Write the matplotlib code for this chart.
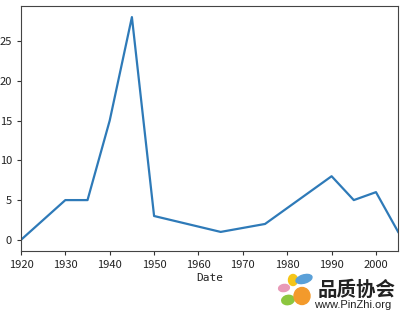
import matplotlib
matplotlib.use("Agg")
import matplotlib.pyplot as plt
from matplotlib.patches import Ellipse

plt.rcParams['font.family'] = ['Noto Sans CJK SC', 'DejaVu Sans']

years = [1920, 1930, 1935, 1940, 1945, 1950, 1965, 1975, 1990, 1995, 2000, 2005]
values = [0, 5, 5, 15, 28, 3, 1, 2, 8, 5, 6, 1]
xticks = [1920, 1930, 1940, 1950, 1960, 1970, 1980, 1990, 2000]
yticks = [0, 5, 10, 15, 20, 25]

fig = plt.figure(figsize=(4.03, 3.14), dpi=100)
ax = fig.add_axes([0.052, 0.2006, 0.936, 0.7804])
ax.plot(years, values, color='#2e7ab8', lw=1.6)
ax.set_xlim(1920, 2005)
ax.set_ylim(-1.4, 29.4)
ax.set_xticks(xticks)
ax.set_yticks(yticks)
ax.tick_params(labelsize=8, length=3, color='#333333', labelcolor='#222222')
for s in ax.spines.values():
    s.set_color('#444444')
ax.set_xlabel('Date', fontsize=8, family=['DejaVu Sans Mono'], labelpad=2, color='#222222')

# watermark
W, H = 403.0, 314.0
def ell(px, py, w, h, ang, col):
    fig.patches.append(Ellipse((px / W, 1 - py / H), w / W, h / H, angle=ang,
                               transform=fig.transFigure, color=col, zorder=5))
ell(284, 288, 11, 7, 20, '#e89ab8')
ell(293, 280, 9, 11, 0, '#f5c518')
ell(304, 279, 17, 8, 25, '#5aa0d8')
ell(288, 300, 13, 9, 35, '#8cc63f')
ell(302, 296, 16, 17, 0, '#f39a2b')
fig.text(318 / W, 1 - 290 / H, '品质协会', fontsize=14, fontweight='bold', color='#222222', va='center', ha='left')
fig.text(314 / W, 1 - 305 / H, 'www.PinZhi.org', fontsize=8, family=['Liberation Sans'], color='#222222', va='center', ha='left')

fig.savefig('out.png', dpi=100)
